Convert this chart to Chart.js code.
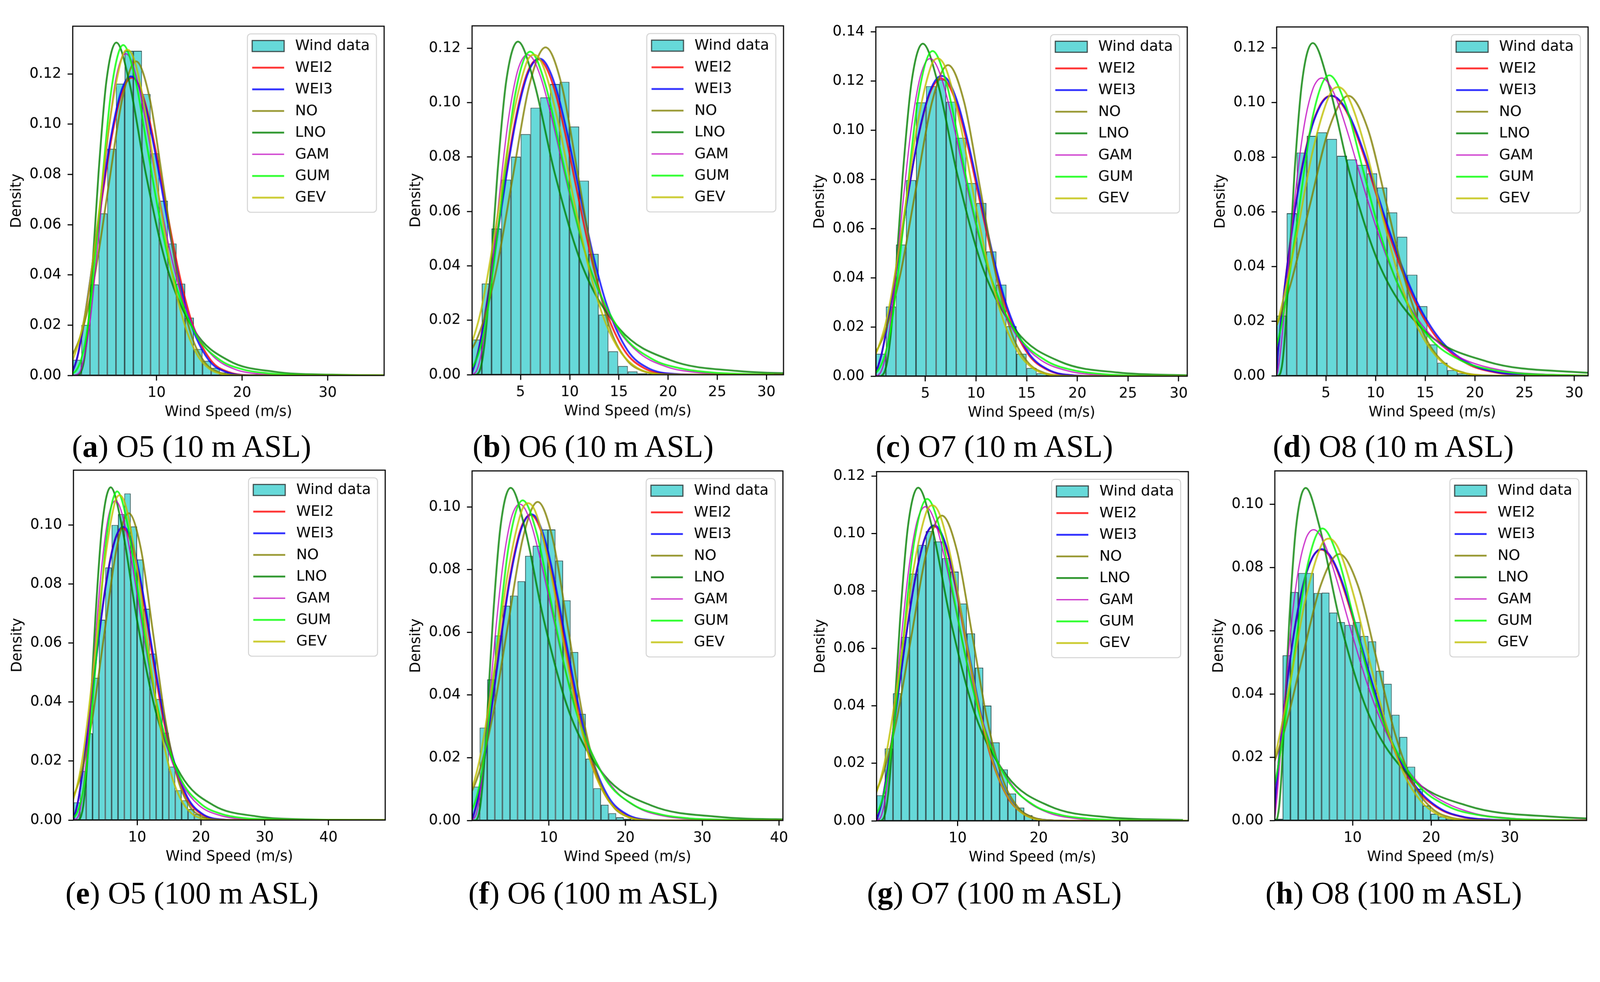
<!DOCTYPE html>
<html>
<head>
<meta charset="utf-8">
<script src="https://cdn.jsdelivr.net/npm/chart.js@4.4.1/dist/chart.umd.min.js"></script>
<style>
  html, body { margin: 0; padding: 0; background: #fff; overflow: hidden; }
  #page { position: absolute; left: 0; top: 0; width: 4359px; height: 2515px; transform-origin: 0 0; background: #fff; }
  canvas { position: absolute; }
  .cap { position: absolute; font-family: 'Liberation Serif', serif; font-size: 85px; line-height: 100px;
         white-space: nowrap; color: #000; transform: translateX(-50%); }
</style>
</head>
<body>
<div id="page"></div>
<script>
const seriesNames = ['WEI2', 'WEI3', 'NO', 'LNO', 'GAM', 'GUM', 'GEV'];
const seriesColors = ['rgba(255,0,0,0.8)', 'rgba(0,0,255,0.8)', 'rgba(128,128,0,0.8)', 'rgba(0,128,0,0.8)',
                      'rgba(191,0,191,0.8)', 'rgba(0,255,0,0.8)', 'rgba(191,191,0,0.8)'];
const seriesWidths = [5, 5, 5, 5, 3.5, 5, 5];

const ticks10 = [0, 0.02, 0.04, 0.06, 0.08, 0.10];
const ticks12 = [0, 0.02, 0.04, 0.06, 0.08, 0.10, 0.12];
const ticks14 = [0, 0.02, 0.04, 0.06, 0.08, 0.10, 0.12, 0.14];

// (a) O5, 10 m
const a_binStart = 0.2, a_binWidth = 1.011;
const a_hist = [.0062,.0201,.0362,.0645,.0902,.1161,.1292,.1292,.1120,.0884,.0695,.0525,.0365,.0230,.0105,.0058,.0030,.0012,.0006,.0004,.0003,.0002,.0002,.0001,.0001,.0001,.0001,0,0,0,.0001,0,0,0,0,.0001];
const a_wei2 = [[0,0],[.71,.0068],[1.42,.0191],[2.49,.0428],[3.55,.0687],[4.62,.0922],[5.68,.1096],[6.39,.1162],[7.1,.1185],[7.81,.1164],[8.88,.1058],[9.94,.0889],[11.36,.0626],[12.78,.0384],[14.2,.0205],[16.33,.0061],[18.46,.0013],[21.3,.0001],[36.6,0]];
const a_wei3 = [[0,0],[.7,.0068],[1.4,.0192],[2.45,.043],[3.5,.069],[4.55,.0926],[5.6,.1101],[6.3,.1167],[7,.119],[7.7,.1169],[8.75,.1062],[9.8,.0893],[11.2,.0629],[12.6,.0386],[14,.0206],[16.1,.0061],[18.2,.0013],[21,.0001],[36.6,0]];
const a_no = [[-1.97,.0014],[-.375,.0055],[1.22,.0169],[2.815,.0406],[4.41,.0758],[6.005,.1103],[7.6,.125],[9.195,.1103],[10.79,.0758],[12.385,.0406],[13.98,.0169],[15.575,.0055],[17.17,.0014],[18.765,.0003],[21.96,0],[36.6,0]];
const a_lno = [[.2,0],[.717,0],[.921,.0003],[1.182,.0015],[1.518,.0058],[1.95,.0179],[2.504,.043],[3.215,.0804],[4.128,.1169],[5.3,.1325],[6.805,.1169],[8.738,.0804],[11.22,.043],[14.41,.0179],[18.5,.0058],[23.75,.0015],[30.5,.0003],[39.16,0]];
const a_gam = [[0,0],[.64,.0003],[1.28,.0036],[2.24,.022],[3.2,.0547],[4.16,.0897],[5.12,.1156],[5.76,.125],[6.4,.128],[7.04,.1254],[8,.1137],[8.96,.0968],[10.24,.0722],[11.52,.0503],[12.8,.0332],[14.72,.0164],[16.64,.0075],[19.2,.0024],[22.4,.0005],[25.6,.0001],[36.6,0]];
const a_gum = [[-.9,0],[.5,.0016],[1.9,.0181],[3.3,.0641],[4.7,.1133],[6.1,.1315],[7.5,.1182],[8.9,.091],[10.3,.0638],[11.7,.0423],[14.5,.0169],[17.3,.0064],[20.1,.0024],[22.9,.0009],[25.7,.0003],[28.5,.0001],[36.6,0]];
const a_gev = [[-2.73,.0001],[-1.28,.0009],[.17,.0061],[1.62,.024],[3.07,.0594],[4.52,.1008],[5.97,.1268],[6.6,.1296],[7.42,.1253],[8.87,.1017],[10.32,.07],[11.77,.0413],[13.22,.0209],[14.67,.0087],[16.12,.0028],[17.57,.0006],[19.02,0],[36.6,0]];
const a_xTicks = [10, 20, 30];

// (b) O6, 10 m
const b_binStart = 0.07, b_binWidth = 0.9897;
const b_hist = [.0129,.0335,.0537,.0717,.0801,.0884,.0981,.1019,.1068,.1076,.0912,.0713,.0444,.0221,.0086,.0032,.0012,.0005,.0003,.0001,.0001,.0001,0,0,0,0,0,0,0,0,0,.0001];
const b_wei2 = [[0,0],[.676,.0083],[1.352,.0216],[2.366,.0456],[3.38,.0705],[4.394,.0923],[5.408,.108],[6.084,.1139],[6.76,.1159],[7.436,.114],[8.45,.1048],[9.464,.0899],[10.816,.0662],[12.168,.0433],[13.52,.0252],[15.548,.009],[17.576,.0024],[20.28,.0003],[23.66,0],[31.7,0]];
const b_wei3 = [[0,0],[.69,.0083],[1.38,.0216],[2.415,.0457],[3.45,.0706],[4.485,.0926],[5.52,.1083],[6.21,.1142],[6.9,.1162],[7.59,.1143],[8.625,.1051],[9.66,.0902],[11.04,.0663],[12.42,.0434],[13.8,.0253],[15.87,.009],[17.94,.0025],[20.7,.0003],[24.15,0],[31.7,0]];
const b_no = [[-2.41,.0013],[-.75,.0053],[.908,.0163],[2.566,.0391],[4.224,.073],[5.882,.1062],[7.54,.1203],[9.198,.1062],[10.856,.073],[12.514,.0391],[14.172,.0163],[15.83,.0053],[17.488,.0013],[19.146,.0003],[22.46,0],[31.7,0]];
const b_lno = [[0,0],[.466,0],[.622,.0003],[.832,.0014],[1.112,.0054],[1.486,.0166],[1.986,.0397],[2.654,.0742],[3.547,.108],[4.74,.1224],[6.335,.108],[8.466,.0742],[11.31,.0397],[15.12,.0166],[20.21,.0054],[27.0,.0014],[36.09,.0003]];
const b_gam = [[0,0],[.57,.0018],[1.14,.0104],[1.995,.0354],[2.85,.0659],[3.705,.0923],[4.56,.1097],[5.13,.1157],[5.7,.1176],[6.27,.116],[7.125,.1085],[7.98,.0972],[9.12,.0796],[10.26,.0622],[11.4,.0468],[13.11,.029],[14.82,.017],[17.1,.0079],[19.95,.0028],[22.8,.0009],[28.5,.0001],[31.7,0]];
const b_gum = [[-1.78,0],[-.23,.0015],[1.32,.0164],[2.87,.0579],[4.42,.1023],[5.97,.1187],[7.52,.1067],[9.07,.0821],[10.62,.0576],[12.17,.0381],[15.27,.0153],[18.37,.0058],[21.47,.0022],[24.57,.0008],[27.67,.0003],[30.77,.0001]];
const b_gev = [[-3.94,.0001],[-2.34,.0008],[-.74,.0056],[.862,.0218],[2.462,.0539],[4.062,.0915],[5.662,.1151],[6.36,.1176],[7.262,.1137],[8.862,.0923],[10.462,.0635],[12.062,.0375],[13.662,.0189],[15.262,.0079],[16.862,.0025],[18.462,.0005],[20.062,0],[31.7,0]];
const b_xTicks = [5, 10, 15, 20, 25, 30];

// (c) O7, 10 m
const c_binStart = 0.11, c_binWidth = 0.9916;
const c_hist = [.0091,.0283,.0535,.0797,.1113,.1179,.1205,.1116,.0969,.0785,.0704,.0507,.0372,.0203,.0091,.0033,.0012,.0005,.0002,.0001,.0001,.0001,0,0,0,0,0,0,0,0,.0001];
const c_wei2 = [[0,0],[.655,.0086],[1.31,.0225],[2.293,.0476],[3.275,.0736],[4.258,.0964],[5.24,.1128],[5.895,.1189],[6.55,.121],[7.205,.119],[8.188,.1094],[9.17,.0939],[10.48,.0691],[11.79,.0452],[13.1,.0263],[15.065,.0094],[17.03,.0026],[19.65,.0003],[22.93,0],[30.85,0]];
const c_wei3 = [[0,0],[.66,.0087],[1.32,.0227],[2.31,.048],[3.3,.0742],[4.29,.0973],[5.28,.1138],[5.94,.12],[6.6,.1221],[7.26,.1201],[8.25,.1104],[9.24,.0947],[10.56,.0697],[11.88,.0456],[13.2,.0266],[15.18,.0095],[17.16,.0026],[19.8,.0003],[23.1,0],[30.85,0]];
const c_no = [[-2.22,.0014],[-.645,.0056],[.932,.0171],[2.509,.0411],[4.086,.0767],[5.663,.1116],[7.24,.1265],[8.817,.1116],[10.394,.0767],[11.971,.0411],[13.548,.0171],[15.125,.0056],[16.702,.0014],[18.279,.0003],[21.433,0],[30.85,0]];
const c_lno = [[0,0],[.548,0],[.718,.0003],[.94,.0015],[1.231,.0059],[1.613,.0183],[2.113,.0439],[2.768,.082],[3.626,.1193],[4.75,.1352],[6.222,.1193],[8.151,.082],[10.677,.0439],[13.988,.0183],[18.323,.0059],[24.0,.0015],[31.44,.0003]];
const c_gam = [[0,0],[.546,.0013],[1.092,.0089],[1.911,.0345],[2.73,.0683],[3.549,.0989],[4.368,.1196],[4.914,.1268],[5.46,.1291],[6.006,.1271],[6.825,.1181],[7.644,.1047],[8.736,.0841],[9.828,.0641],[10.92,.0469],[12.558,.0276],[14.196,.0154],[16.38,.0066],[19.11,.0021],[21.84,.0006],[27.3,.0001],[30.85,0]];
const c_gum = [[-1.25,0],[.144,.0016],[1.536,.0182],[2.927,.0645],[4.319,.114],[5.71,.1322],[7.102,.1188],[8.493,.0915],[9.885,.0642],[11.276,.0425],[14.059,.017],[16.842,.0065],[19.625,.0024],[22.408,.0009],[25.19,.0003],[27.97,.0001],[30.85,0]];
const c_gev = [[-3.14,.0001],[-1.69,.0009],[-.23,.0061],[1.221,.024],[2.676,.0592],[4.131,.1005],[5.586,.1264],[6.22,.1292],[7.041,.1249],[8.496,.1014],[9.951,.0698],[11.406,.0412],[12.861,.0208],[14.316,.0087],[15.771,.0028],[17.226,.0006],[18.681,0],[30.85,0]];
const c_xTicks = [5, 10, 15, 20, 25, 30];

// (d) O8, 10 m
const d_binStart = 0.04, d_binWidth = 1.0116;
const d_hist = [.0220,.0595,.0817,.0878,.0891,.0867,.0805,.0792,.0772,.0741,.0689,.0598,.0509,.0370,.0255,.0115,.0048,.0021,.0009,.0004,.0002,.0001,.0001,.0001,0,0,0,0,0,0,.0001];
const d_wei2 = [[0,0],[.165,.0082],[.55,.0228],[1.1,.0404],[1.925,.0622],[2.75,.0793],[3.575,.0915],[4.4,.099],[4.95,.1017],[5.5,.1025],[6.05,.1017],[6.875,.098],[7.7,.0918],[8.8,.0809],[9.9,.0684],[11,.0558],[12.65,.0386],[14.3,.0248],[16.5,.0124],[19.25,.0044],[22,.0013],[24.75,.0003],[27.5,.0001],[31.4,0]];
const d_wei3 = [[0,0],[.167,.0082],[.557,.0228],[1.114,.0404],[1.95,.0622],[2.785,.0793],[3.621,.0915],[4.456,.099],[5.013,.1017],[5.57,.1025],[6.127,.1017],[6.963,.098],[7.798,.0918],[8.912,.0809],[10.026,.0684],[11.14,.0558],[12.811,.0386],[14.482,.0248],[16.71,.0124],[19.495,.0044],[22.28,.0013],[25.065,.0003],[27.85,.0001],[31.4,0]];
const d_no = [[-4.42,.0011],[-2.47,.0045],[-.524,.0139],[1.422,.0333],[3.368,.0622],[5.314,.0905],[7.26,.1025],[9.206,.0905],[11.152,.0622],[13.098,.0333],[15.044,.0139],[16.99,.0045],[18.936,.0011],[20.882,.0002],[24.774,0],[31.4,0]];
const d_lno = [[0,0],[.224,0],[.318,.0003],[.451,.0014],[.64,.0053],[.907,.0165],[1.288,.0395],[1.827,.0739],[2.593,.1075],[3.68,.1218],[5.222,.1075],[7.411,.0739],[10.516,.0395],[14.923,.0165],[21.177,.0053],[30.05,.0014],[42.64,.0003]];
const d_gam = [[0,0],[.137,.0015],[.458,.01],[.916,.0275],[1.603,.0552],[2.29,.0785],[2.977,.095],[3.664,.1048],[4.122,.108],[4.58,.109],[5.038,.1081],[5.725,.1041],[6.412,.0978],[7.328,.0874],[8.244,.076],[9.16,.0647],[10.534,.0493],[11.908,.0364],[13.74,.0235],[16.03,.0131],[18.32,.007],[22.9,.0019],[27.48,.0005],[32.06,.0001]];
const d_gum = [[-3.02,0],[-1.35,.0014],[.323,.0152],[1.995,.0536],[3.668,.0948],[5.34,.11],[7.013,.0989],[8.685,.0761],[10.358,.0534],[12.03,.0353],[15.375,.0142],[18.72,.0054],[22.065,.002],[25.41,.0007],[28.755,.0003],[32.1,.0001]];
const d_gev = [[-5.23,.0001],[-3.45,.0007],[-1.67,.005],[.109,.0196],[1.888,.0484],[3.666,.0822],[5.445,.1034],[6.22,.1057],[7.223,.1022],[9.002,.083],[10.78,.0571],[12.559,.0337],[14.337,.017],[16.116,.0071],[17.894,.0023],[19.673,.0005],[21.451,0],[31.4,0]];
const d_xTicks = [5, 10, 15, 20, 25, 30];

// (e) O5, 100 m
const e_binStart = 0, e_binWidth = 0.998;
const e_hist = [.0060,.0166,.0294,.0482,.0679,.0856,.1000,.1037,.1107,.0995,.0883,.0716,.0564,.0410,.0296,.0181,.0101,.0067,.0037,.0020,.0009,.0005,.0003,.0002,.0001,.0001,.0001,.0001,0,0,0,0,0,0,0,0,0,0,0,0,0,0,0,0,0,0,0,0,.0001];
const e_wei2 = [[0,0],[.77,.007],[1.54,.0184],[2.695,.0389],[3.85,.0602],[5.005,.0789],[6.16,.0923],[6.93,.0973],[7.7,.099],[8.47,.0974],[9.625,.0895],[10.78,.0768],[12.32,.0565],[13.86,.037],[15.4,.0216],[17.71,.0077],[20.02,.0021],[23.1,.0002],[26.95,0],[48.9,0]];
const e_wei3 = [[0,0],[.778,.0071],[1.556,.0185],[2.723,.0391],[3.89,.0604],[5.057,.0792],[6.224,.0926],[7.002,.0977],[7.78,.0994],[8.558,.0978],[9.725,.0899],[10.892,.0771],[12.448,.0567],[14.004,.0371],[15.56,.0216],[17.894,.0077],[20.228,.0021],[23.34,.0002],[27.23,0],[48.9,0]];
const e_no = [[-2.84,.0012],[-.92,.0046],[.998,.0141],[2.916,.0338],[4.834,.0631],[6.752,.0918],[8.67,.104],[10.588,.0918],[12.506,.0631],[14.424,.0338],[16.342,.0141],[18.26,.0046],[20.178,.0012],[22.096,.0002],[25.93,0],[48.9,0]];
const e_lno = [[0,0],[.701,0],[.914,.0002],[1.191,.0013],[1.552,.005],[2.023,.0153],[2.637,.0366],[3.437,.0684],[4.48,.0995],[5.84,.1128],[7.612,.0995],[9.922,.0684],[12.932,.0366],[16.856,.0153],[21.971,.005],[28.638,.0013],[37.33,.0002],[48.65,0]];
const e_gam = [[0,0],[.656,.0009],[1.312,.0069],[2.296,.0278],[3.28,.0561],[4.264,.0822],[5.248,.1],[5.904,.1062],[6.56,.1082],[7.216,.1065],[8.2,.0987],[9.184,.0872],[10.496,.0695],[11.808,.0526],[13.12,.0381],[15.088,.0221],[17.056,.0121],[19.68,.005],[22.96,.0016],[26.24,.0004],[32.8,0],[48.9,0]];
const e_gum = [[-1.4,0],[.25,.0014],[1.9,.0154],[3.55,.0543],[5.2,.096],[6.85,.1114],[8.5,.1001],[10.15,.0771],[11.8,.0541],[13.45,.0358],[16.75,.0143],[20.05,.0054],[23.35,.002],[26.65,.0007],[29.95,.0003],[33.25,.0001],[48.9,0]];
const e_gev = [[-3.74,.0001],[-2.03,.0007],[-.32,.0052],[1.383,.0204],[3.091,.0505],[4.798,.0857],[6.506,.1077],[7.25,.1101],[8.213,.1064],[9.921,.0864],[11.628,.0595],[13.336,.0351],[15.043,.0177],[16.751,.0074],[18.458,.0024],[20.166,.0005],[21.873,0],[48.9,0]];
const e_xTicks = [10, 20, 30, 40];

// (f) O6, 100 m
const f_binStart = 0.01, f_binWidth = 0.9876;
const f_hist = [.0108,.0296,.0450,.0590,.0685,.0717,.0763,.0844,.0876,.0928,.0928,.0829,.0702,.0537,.0340,.0197,.0103,.0050,.0023,.0010,.0005,.0003,.0002,.0001,.0001,.0001,0,0,0,0,0,0,0,0,0,0,0,0,0,0,.0001];
const f_wei2 = [[0,0],[.76,.0069],[1.52,.0181],[2.66,.0383],[3.8,.0593],[4.94,.0777],[6.08,.0909],[6.84,.0958],[7.6,.0975],[8.36,.0959],[9.5,.0882],[10.64,.0757],[12.16,.0557],[13.68,.0364],[15.2,.0212],[17.48,.0076],[19.76,.0021],[22.8,.0002],[26.6,0],[40.5,0]];
const f_wei3 = [[0,0],[.772,.007],[1.544,.0182],[2.702,.0384],[3.86,.0594],[5.018,.0778],[6.176,.091],[6.948,.096],[7.72,.0977],[8.492,.0961],[9.65,.0883],[10.808,.0758],[12.352,.0558],[13.896,.0365],[15.44,.0213],[17.756,.0076],[20.072,.0021],[23.16,.0002],[27.02,0],[40.5,0]];
const f_no = [[-3.22,.0011],[-1.26,.0045],[.706,.0137],[2.67,.033],[4.633,.0616],[6.597,.0897],[8.56,.1016],[10.524,.0897],[12.487,.0616],[14.451,.033],[16.414,.0137],[18.378,.0045],[20.341,.0011],[22.305,.0002],[26.23,0],[40.5,0]];
const f_lno = [[0,0],[.43,0],[.586,.0002],[.796,.0012],[1.083,.0047],[1.473,.0144],[2.003,.0345],[2.725,.0643],[3.706,.0936],[5.04,.1061],[6.854,.0936],[9.322,.0643],[12.678,.0345],[17.243,.0144],[23.449,.0047],[31.891,.0012],[43.37,.0002]];
const f_gam = [[0,0],[.621,.0026],[1.242,.0123],[2.174,.0357],[3.105,.0611],[4.037,.0818],[4.968,.095],[5.589,.0995],[6.21,.1009],[6.831,.0997],[7.763,.0941],[8.694,.0855],[9.936,.072],[11.178,.0581],[12.42,.0454],[14.283,.03],[16.146,.0189],[18.63,.0097],[21.735,.0039],[24.84,.0015],[31.05,.0002],[37.26,0],[40.5,0]];
const f_gum = [[-2.4,0],[-.596,.0013],[1.206,.0141],[3.007,.0498],[4.809,.088],[6.61,.1021],[8.412,.0918],[10.213,.0707],[12.015,.0495],[13.816,.0328],[17.419,.0131],[21.022,.005],[24.625,.0019],[28.228,.0007],[31.831,.0003],[35.434,.0001],[40.5,0]];
const f_gev = [[-4.64,.0001],[-2.78,.0007],[-.92,.0048],[.938,.0188],[2.795,.0464],[4.653,.0787],[6.51,.099],[7.32,.1012],[8.368,.0978],[10.225,.0794],[12.083,.0546],[13.94,.0323],[15.798,.0163],[17.655,.0068],[19.513,.0022],[21.37,.0004],[23.228,0],[40.5,0]];
const f_xTicks = [10, 20, 30, 40];

// (g) O7, 100 m
const g_binStart = 0, g_binWidth = 1.0121;
const g_hist = [.0089,.0252,.0444,.0640,.0860,.0960,.1008,.0972,.0914,.0867,.0756,.0652,.0533,.0401,.0273,.0179,.0095,.0046,.0020,.0009,.0004,.0002,.0001,.0001,.0001,0,0,0,0,0,0,0,0,0,0,0,0,.0001];
const g_wei2 = [[0,0],[.705,.0073],[1.41,.0191],[2.468,.0403],[3.525,.0623],[4.583,.0817],[5.64,.0955],[6.345,.1008],[7.05,.1025],[7.755,.1008],[8.813,.0927],[9.87,.0795],[11.28,.0585],[12.69,.0383],[14.1,.0223],[16.215,.008],[18.33,.0022],[21.15,.0002],[24.675,0],[38.46,0]];
const g_wei3 = [[0,0],[.71,.0073],[1.42,.0191],[2.485,.0404],[3.55,.0625],[4.615,.0819],[5.68,.0958],[6.39,.1011],[7.1,.1028],[7.81,.1011],[8.875,.093],[9.94,.0798],[11.36,.0587],[12.78,.0384],[14.2,.0224],[16.33,.008],[18.46,.0022],[21.3,.0002],[24.85,0],[38.46,0]];
const g_no = [[-3.21,.0012],[-1.33,.0047],[.546,.0144],[2.425,.0345],[4.303,.0644],[6.182,.0937],[8.06,.1062],[9.939,.0937],[11.817,.0644],[13.696,.0345],[15.574,.0144],[17.453,.0047],[19.331,.0012],[21.21,.0002],[24.97,0],[38.46,0]];
const g_lno = [[0,0],[.526,0],[.699,.0003],[.93,.0013],[1.236,.0051],[1.644,.0157],[2.186,.0376],[2.907,.0703],[3.865,.1023],[5.14,.1159],[6.835,.1023],[9.089,.0703],[12.087,.0376],[16.072,.0157],[21.372,.0051],[28.42,.0013],[37.79,.0003]];
const g_gam = [[0,0],[.603,.0019],[1.206,.0104],[2.111,.0343],[3.015,.0624],[3.92,.0865],[4.824,.1022],[5.427,.1076],[6.03,.1093],[6.633,.1078],[7.538,.1011],[8.442,.0909],[9.648,.075],[10.854,.0591],[12.06,.0449],[13.869,.0282],[15.678,.0169],[18.09,.008],[21.105,.0029],[24.12,.001],[30.15,.0001],[38.46,0]];
const g_gum = [[-1.96,0],[-.32,.0014],[1.323,.0154],[2.965,.0546],[4.608,.0965],[6.25,.112],[7.893,.1007],[9.535,.0775],[11.178,.0544],[12.82,.036],[16.105,.0144],[19.39,.0055],[22.675,.0021],[25.96,.0008],[29.245,.0003],[32.53,.0001],[38.46,0]];
const g_gev = [[-4.14,.0001],[-2.43,.0007],[-.71,.0052],[.998,.0204],[2.71,.0503],[4.422,.0854],[6.134,.1074],[6.88,.1098],[7.846,.1062],[9.558,.0862],[11.27,.0593],[12.982,.035],[14.694,.0177],[16.406,.0074],[18.118,.0024],[19.83,.0005],[21.542,0],[38.46,0]];
const g_xTicks = [10, 20, 30];

// (h) O8, 100 m
const h_binStart = 0.1, h_binWidth = 0.9918;
const h_hist = [.0005,.0522,.0722,.0782,.0782,.0719,.0720,.0657,.0627,.0618,.0627,.0583,.0566,.0473,.0432,.0334,.0264,.0170,.0100,.0047,.0021,.0012,.0006,.0003,.0002,.0001,.0001,.0001,0,0,0,0,0,0,0,0,0,0,0,.0001];
const h_wei2 = [[0,0],[.18,.0069],[.6,.019],[1.2,.0337],[2.1,.052],[3,.0662],[3.9,.0764],[4.8,.0827],[5.4,.0849],[6,.0856],[6.6,.0849],[7.5,.0818],[8.4,.0766],[9.6,.0675],[10.8,.0571],[12,.0466],[13.8,.0322],[15.6,.0207],[18,.0103],[21,.0037],[24,.0011],[27,.0003],[30,.0001],[39.77,0]];
const h_wei3 = [[0,0],[.182,.0069],[.605,.0191],[1.21,.0338],[2.118,.0521],[3.025,.0663],[3.933,.0766],[4.84,.0829],[5.445,.0851],[6.05,.0858],[6.655,.0851],[7.563,.082],[8.47,.0768],[9.68,.0677],[10.89,.0573],[12.1,.0467],[13.915,.0323],[15.73,.0207],[18.15,.0104],[21.175,.0037],[24.2,.0011],[27.225,.0003],[30.25,.0001],[39.77,0]];
const h_no = [[-5.91,.0009],[-3.55,.0037],[-1.18,.0114],[1.193,.0273],[3.562,.0511],[5.931,.0743],[8.3,.0842],[10.669,.0743],[13.038,.0511],[15.407,.0273],[17.776,.0114],[20.145,.0037],[22.514,.0009],[24.883,.0002],[29.62,0],[39.77,0]];
const h_lno = [[0,0],[.222,0],[.319,.0002],[.458,.0012],[.658,.0046],[.945,.0142],[1.358,.0341],[1.952,.0637],[2.804,.0928],[4.03,.1051],[5.791,.0928],[8.322,.0637],[11.957,.0341],[17.18,.0142],[24.689,.0046],[35.47,.0012],[50.9,.0002]];
const h_gam = [[0,0],[.151,.002],[.502,.0112],[1.004,.0273],[1.757,.0505],[2.51,.0688],[3.263,.0814],[4.016,.0888],[4.518,.0912],[5.02,.0919],[5.522,.0913],[6.275,.0883],[7.028,.0835],[8.032,.0756],[9.036,.0668],[10.04,.058],[11.546,.0456],[13.052,.0349],[15.06,.0238],[17.57,.0142],[20.08,.0082],[25.1,.0025],[30.12,.0007],[35.14,.0002],[40.16,.0001]];
const h_gum = [[-3.8,0],[-1.81,.0011],[.181,.0127],[2.174,.045],[4.167,.0795],[6.16,.0923],[8.153,.083],[10.146,.0639],[12.139,.0448],[14.132,.0297],[18.118,.0119],[22.104,.0045],[26.09,.0017],[30.076,.0006],[34.062,.0002],[38.048,.0001]];
const h_gev = [[-6.6,0],[-4.49,.0006],[-2.38,.0042],[-.27,.0165],[1.84,.0408],[3.95,.0693],[6.06,.0872],[6.98,.0891],[8.17,.0861],[10.28,.0699],[12.39,.0481],[14.5,.0284],[16.61,.0143],[18.72,.006],[20.83,.0019],[22.94,.0004],[25.05,0],[39.77,0]];
const h_xTicks = [10, 20, 30];

const panels = [
  { letter: 'a', text: ' O5 (10 m ASL)', start: a_binStart, width: a_binWidth, hist: a_hist,
    curves: [a_wei2, a_wei3, a_no, a_lno, a_gam, a_gum, a_gev], xTicks: a_xTicks, yTicks: ticks12, yMax: 0.139,
    box: [198, 61, 1046, 1023], cap: [522, 1221] },
  { letter: 'b', text: ' O6 (10 m ASL)', start: b_binStart, width: b_binWidth, hist: b_hist,
    curves: [b_wei2, b_wei3, b_no, b_lno, b_gam, b_gum, b_gev], xTicks: b_xTicks, yTicks: ticks12, yMax: 0.1282,
    box: [1286, 60, 2134, 1021], cap: [1616, 1221] },
  { letter: 'c', text: ' O7 (10 m ASL)', start: c_binStart, width: c_binWidth, hist: c_hist,
    curves: [c_wei2, c_wei3, c_no, c_lno, c_gam, c_gum, c_gev], xTicks: c_xTicks, yTicks: ticks14, yMax: 0.142,
    box: [2386, 63, 3234, 1025], cap: [2709, 1221] },
  { letter: 'd', text: ' O8 (10 m ASL)', start: d_binStart, width: d_binWidth, hist: d_hist,
    curves: [d_wei2, d_wei3, d_no, d_lno, d_gam, d_gum, d_gev], xTicks: d_xTicks, yTicks: ticks12, yMax: 0.1277,
    box: [3478, 63, 4326, 1024], cap: [3796, 1221] },
  { letter: 'e', text: ' O5 (100 m ASL)', start: e_binStart, width: e_binWidth, hist: e_hist,
    curves: [e_wei2, e_wei3, e_no, e_lno, e_gam, e_gum, e_gev], xTicks: e_xTicks, yTicks: ticks10, yMax: 0.1186,
    box: [200, 1271, 1049, 2235], cap: [523, 2439] },
  { letter: 'f', text: ' O6 (100 m ASL)', start: f_binStart, width: f_binWidth, hist: f_hist,
    curves: [f_wei2, f_wei3, f_no, f_lno, f_gam, f_gum, f_gev], xTicks: f_xTicks, yTicks: ticks10, yMax: 0.1115,
    box: [1286, 1273, 2134, 2236], cap: [1616, 2439] },
  { letter: 'g', text: ' O7 (100 m ASL)', start: g_binStart, width: g_binWidth, hist: g_hist,
    curves: [g_wei2, g_wei3, g_no, g_lno, g_gam, g_gum, g_gev], xTicks: g_xTicks, yTicks: ticks12, yMax: 0.1215,
    box: [2388, 1275, 3237, 2237], cap: [2709, 2439] },
  { letter: 'h', text: ' O8 (100 m ASL)', start: h_binStart, width: h_binWidth, hist: h_hist,
    curves: [h_wei2, h_wei3, h_no, h_lno, h_gam, h_gum, h_gev], xTicks: h_xTicks, yTicks: ticks10, yMax: 0.1105,
    box: [3473, 1273, 4322, 2236], cap: [3797, 2439] }
];

const PAGE_W = 4359, PAGE_H = 2515;
const AXIS_W = 180, AXIS_H = 130, PAD_T = 30, PAD_R = 24;
const BAR_FILL = 'rgb(102,217,217)';
const BAR_EDGE = '#234848';

// fit the 4359-wide layout into whatever CSS viewport the browser gives us
const page = document.getElementById('page');
const fit = Math.min(window.innerWidth / PAGE_W, window.innerHeight / PAGE_H) || 1;
page.style.transform = 'scale(' + fit + ')';
const pixelRatio = fit * (window.devicePixelRatio || 1);

Chart.defaults.font.family = '"DejaVu Sans", sans-serif';
Chart.defaults.color = '#000';

// spines drawn over the data, then the boxed legend like matplotlib's
const frameLegend = {
  id: 'frameLegend',
  afterDraw(chart) {
    const { ctx, chartArea: a } = chart;
    ctx.save();
    ctx.strokeStyle = '#000';
    ctx.lineWidth = 3;
    ctx.strokeRect(a.left, a.top, a.right - a.left, a.bottom - a.top);

    const sets = chart.data.datasets;
    ctx.font = '40px "DejaVu Sans"';
    const tw = Math.max(...sets.map(d => ctx.measureText(d.label).width));
    const bw = 130 + tw + 18, bh = 486;
    const bx = a.right - 21 - bw, by = a.top + 21;
    ctx.beginPath();
    if (ctx.roundRect) ctx.roundRect(bx, by, bw, bh, 9); else ctx.rect(bx, by, bw, bh);
    ctx.fillStyle = 'rgba(255,255,255,0.8)';
    ctx.fill();
    ctx.strokeStyle = '#d0d0d0';
    ctx.lineWidth = 2.5;
    ctx.stroke();

    sets.forEach((d, i) => {
      const cy = by + 33 + i * 59;
      if (d.type === 'bar') {
        ctx.fillStyle = BAR_FILL;
        ctx.fillRect(bx + 13, cy - 15, 87, 30);
        ctx.strokeStyle = '#3c4c4c';
        ctx.lineWidth = 3;
        ctx.strokeRect(bx + 13, cy - 15, 87, 30);
      } else {
        ctx.beginPath();
        ctx.moveTo(bx + 13, cy);
        ctx.lineTo(bx + 100, cy);
        ctx.strokeStyle = d.borderColor;
        ctx.lineWidth = d.borderWidth;
        ctx.stroke();
      }
      ctx.fillStyle = '#000';
      ctx.textBaseline = 'middle';
      ctx.textAlign = 'left';
      ctx.fillText(d.label, bx + 130, cy + 1);
    });
    ctx.restore();
  }
};

panels.forEach(p => {
  const [L, T, R, B] = p.box;
  const w = R - L + AXIS_W + PAD_R;
  const h = B - T + PAD_T + AXIS_H;
  const cv = document.createElement('canvas');
  cv.width = w; cv.height = h;
  cv.style.left = (L - AXIS_W) + 'px';
  cv.style.top = (T - PAD_T) + 'px';
  cv.style.width = w + 'px';
  cv.style.height = h + 'px';
  page.appendChild(cv);

  const xMin = p.start, xMax = p.start + p.hist.length * p.width;
  const bars = p.hist.map((v, i) => ({ x: p.start + (i + 0.5) * p.width, y: v }));

  const lines = p.curves.map((c, i) => ({
    type: 'line',
    label: seriesNames[i],
    data: c.map(([x, y]) => ({ x, y })),
    borderColor: seriesColors[i],
    borderWidth: seriesWidths[i],
    pointRadius: 0,
    fill: false,
    cubicInterpolationMode: 'monotone',
    clip: 0,
    order: 7 - i
  }));

  new Chart(cv, {
    type: 'line',
    data: {
      datasets: [{
        type: 'bar',
        label: 'Wind data',
        data: bars,
        backgroundColor: BAR_FILL,
        borderColor: BAR_EDGE,
        borderWidth: 2,
        borderSkipped: false,
        barPercentage: 1,
        categoryPercentage: 1,
        inflateAmount: 0,
        order: 10
      }, ...lines]
    },
    options: {
      responsive: false,
      animation: false,
      events: [],
      devicePixelRatio: pixelRatio,
      layout: { padding: { left: 0, top: PAD_T, right: PAD_R, bottom: 0 } },
      plugins: { legend: { display: false }, tooltip: { enabled: false } },
      scales: {
        x: {
          type: 'linear', min: xMin, max: xMax, offset: false,
          afterFit: s => { s.height = AXIS_H; },
          afterBuildTicks: s => { s.ticks = p.xTicks.map(v => ({ value: v })); },
          grid: { display: true, drawOnChartArea: false, drawTicks: true, tickLength: 14, tickWidth: 3, tickColor: '#000', offset: false },
          border: { display: false },
          ticks: { font: { size: 39 }, color: '#000', padding: 11, maxRotation: 0, autoSkip: false, callback: v => String(v) },
          title: { display: true, text: 'Wind Speed (m/s)', font: { size: 39 }, color: '#000', padding: { top: 0, bottom: 6 } }
        },
        y: {
          type: 'linear', min: 0, max: p.yMax,
          afterFit: s => { s.width = AXIS_W; },
          afterBuildTicks: s => { s.ticks = p.yTicks.map(v => ({ value: v })); },
          grid: { display: true, drawOnChartArea: false, drawTicks: true, tickLength: 14, tickWidth: 3, tickColor: '#000' },
          border: { display: false },
          ticks: { font: { size: 39 }, color: '#000', padding: 17, callback: v => v.toFixed(2) },
          title: { display: true, text: 'Density', font: { size: 39 }, color: '#000', padding: { top: 5, bottom: 0 } }
        }
      }
    },
    plugins: [frameLegend]
  });

  const cap = document.createElement('div');
  cap.className = 'cap';
  cap.style.left = p.cap[0] + 'px';
  cap.style.top = (p.cap[1] - 55) + 'px';
  cap.innerHTML = '(<b>' + p.letter + '</b>)' + p.text;
  page.appendChild(cap);
});
</script>
</body>
</html>
